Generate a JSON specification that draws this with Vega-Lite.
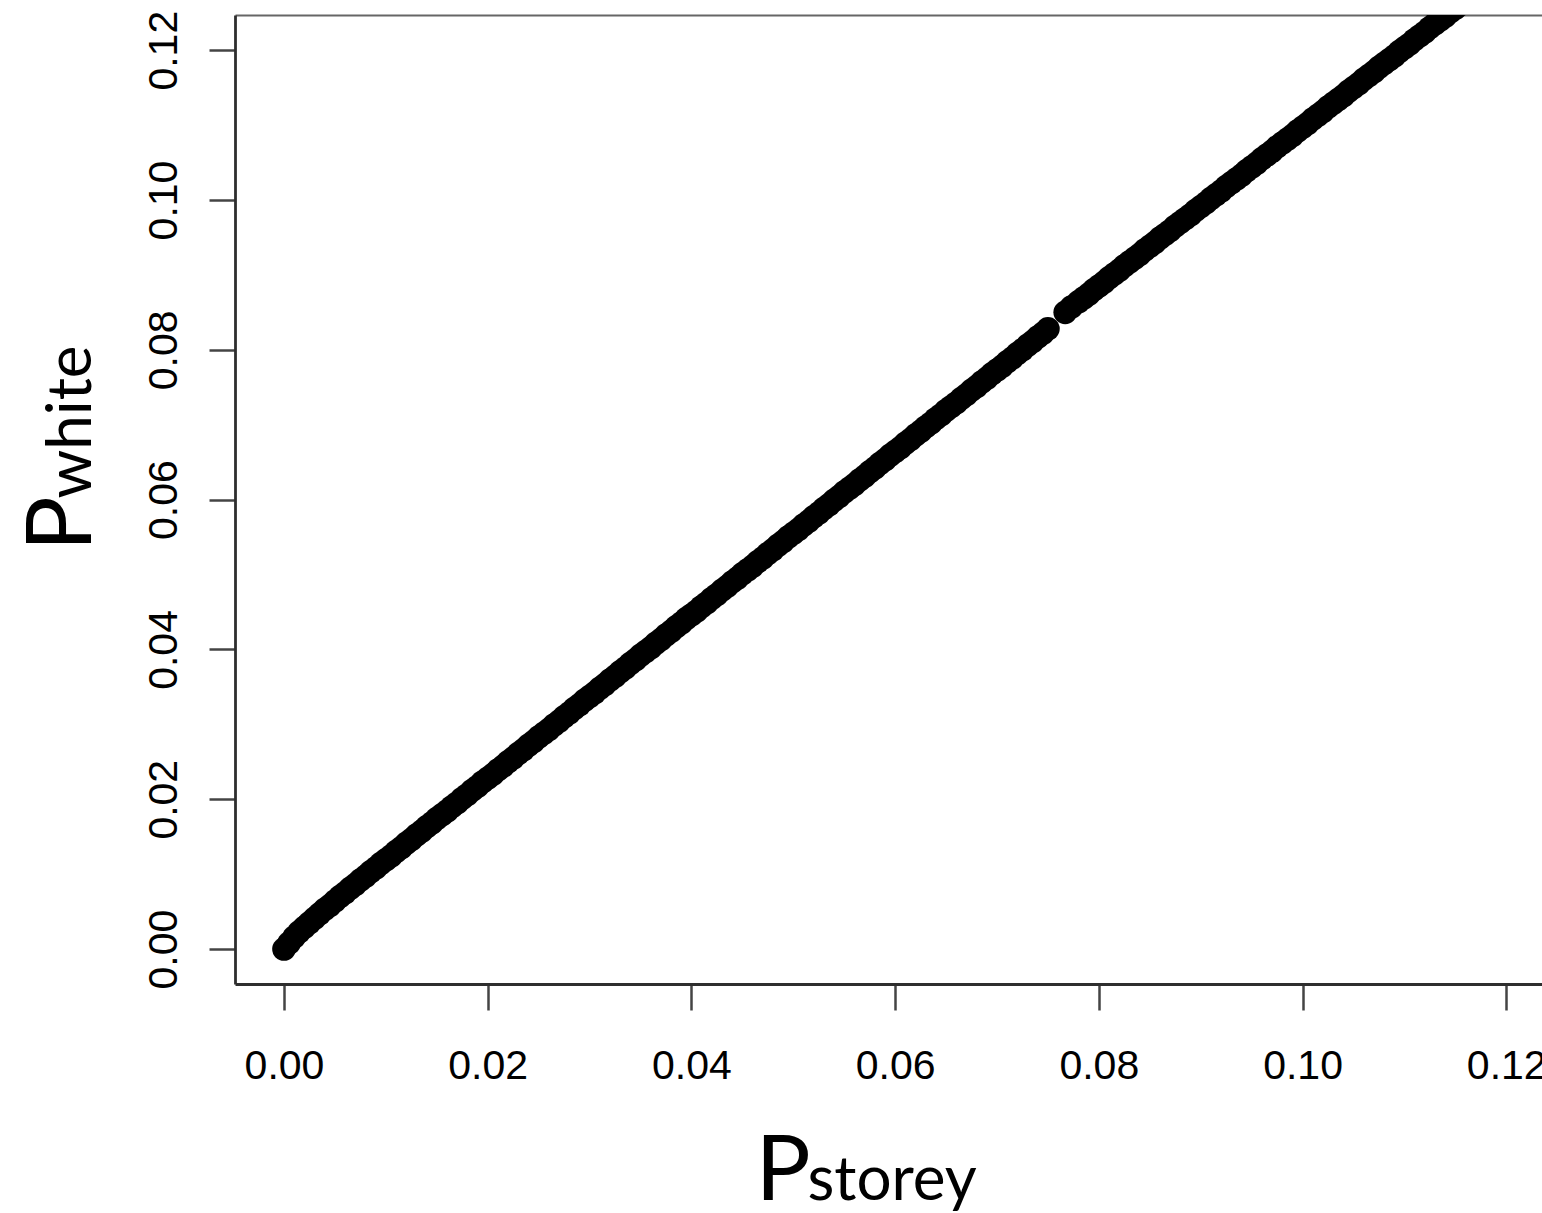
{
  "$schema": "https://vega.github.io/schema/vega-lite/v6.json",
  "width": 1307,
  "height": 969,
  "autosize": {"type": "none"},
  "padding": {"left": 235, "top": 15, "right": 0, "bottom": 229},
  "background": "white",
  "config": {
    "view": {"stroke": null},
    "axis": {"grid": false, "labelFont": "Liberation Sans", "labelFontSize": 41, "labelColor": "#000", "titleColor": "#000", "titleFont": "Lato", "titleFontWeight": "normal"}
  },
  "data": {"values": [
    {"p_storey": 0, "p_white": 0},
    {"p_storey": 0.0005, "p_white": 0.0008},
    {"p_storey": 0.001, "p_white": 0.0016},
    {"p_storey": 0.0015, "p_white": 0.0023},
    {"p_storey": 0.002, "p_white": 0.0029},
    {"p_storey": 0.0025, "p_white": 0.0035},
    {"p_storey": 0.003, "p_white": 0.0041},
    {"p_storey": 0.0035, "p_white": 0.0047},
    {"p_storey": 0.004, "p_white": 0.0053},
    {"p_storey": 0.0045, "p_white": 0.0058},
    {"p_storey": 0.005, "p_white": 0.0064},
    {"p_storey": 0.0055, "p_white": 0.0070},
    {"p_storey": 0.006, "p_white": 0.0075},
    {"p_storey": 0.0065, "p_white": 0.0081},
    {"p_storey": 0.007, "p_white": 0.0086},
    {"p_storey": 0.0075, "p_white": 0.0092},
    {"p_storey": 0.008, "p_white": 0.0097},
    {"p_storey": 0.0085, "p_white": 0.0103},
    {"p_storey": 0.009, "p_white": 0.0108},
    {"p_storey": 0.0095, "p_white": 0.0114},
    {"p_storey": 0.010, "p_white": 0.0119},
    {"p_storey": 0.0105, "p_white": 0.0124},
    {"p_storey": 0.011, "p_white": 0.0130},
    {"p_storey": 0.0115, "p_white": 0.0135},
    {"p_storey": 0.012, "p_white": 0.0141},
    {"p_storey": 0.0125, "p_white": 0.0146},
    {"p_storey": 0.013, "p_white": 0.0152},
    {"p_storey": 0.0135, "p_white": 0.0157},
    {"p_storey": 0.014, "p_white": 0.0163},
    {"p_storey": 0.0145, "p_white": 0.0168},
    {"p_storey": 0.015, "p_white": 0.0174},
    {"p_storey": 0.0155, "p_white": 0.0179},
    {"p_storey": 0.016, "p_white": 0.0184},
    {"p_storey": 0.0165, "p_white": 0.0190},
    {"p_storey": 0.017, "p_white": 0.0195},
    {"p_storey": 0.0175, "p_white": 0.0201},
    {"p_storey": 0.018, "p_white": 0.0206},
    {"p_storey": 0.0185, "p_white": 0.0212},
    {"p_storey": 0.019, "p_white": 0.0217},
    {"p_storey": 0.0195, "p_white": 0.0223},
    {"p_storey": 0.020, "p_white": 0.0228},
    {"p_storey": 0.0205, "p_white": 0.0233},
    {"p_storey": 0.021, "p_white": 0.0239},
    {"p_storey": 0.0215, "p_white": 0.0244},
    {"p_storey": 0.022, "p_white": 0.0250},
    {"p_storey": 0.0225, "p_white": 0.0255},
    {"p_storey": 0.023, "p_white": 0.0261},
    {"p_storey": 0.0235, "p_white": 0.0266},
    {"p_storey": 0.024, "p_white": 0.0272},
    {"p_storey": 0.0245, "p_white": 0.0277},
    {"p_storey": 0.025, "p_white": 0.0283},
    {"p_storey": 0.0255, "p_white": 0.0288},
    {"p_storey": 0.026, "p_white": 0.0293},
    {"p_storey": 0.0265, "p_white": 0.0299},
    {"p_storey": 0.027, "p_white": 0.0304},
    {"p_storey": 0.0275, "p_white": 0.0310},
    {"p_storey": 0.028, "p_white": 0.0315},
    {"p_storey": 0.0285, "p_white": 0.0321},
    {"p_storey": 0.029, "p_white": 0.0326},
    {"p_storey": 0.0295, "p_white": 0.0332},
    {"p_storey": 0.030, "p_white": 0.0337},
    {"p_storey": 0.0305, "p_white": 0.0342},
    {"p_storey": 0.031, "p_white": 0.0348},
    {"p_storey": 0.0315, "p_white": 0.0353},
    {"p_storey": 0.032, "p_white": 0.0359},
    {"p_storey": 0.0325, "p_white": 0.0364},
    {"p_storey": 0.033, "p_white": 0.0370},
    {"p_storey": 0.0335, "p_white": 0.0375},
    {"p_storey": 0.034, "p_white": 0.0381},
    {"p_storey": 0.0345, "p_white": 0.0386},
    {"p_storey": 0.035, "p_white": 0.0392},
    {"p_storey": 0.0355, "p_white": 0.0397},
    {"p_storey": 0.036, "p_white": 0.0402},
    {"p_storey": 0.0365, "p_white": 0.0408},
    {"p_storey": 0.037, "p_white": 0.0413},
    {"p_storey": 0.0375, "p_white": 0.0419},
    {"p_storey": 0.038, "p_white": 0.0424},
    {"p_storey": 0.0385, "p_white": 0.0430},
    {"p_storey": 0.039, "p_white": 0.0435},
    {"p_storey": 0.0395, "p_white": 0.0441},
    {"p_storey": 0.040, "p_white": 0.0446},
    {"p_storey": 0.0405, "p_white": 0.0451},
    {"p_storey": 0.041, "p_white": 0.0457},
    {"p_storey": 0.0415, "p_white": 0.0462},
    {"p_storey": 0.042, "p_white": 0.0468},
    {"p_storey": 0.0425, "p_white": 0.0473},
    {"p_storey": 0.043, "p_white": 0.0479},
    {"p_storey": 0.0435, "p_white": 0.0484},
    {"p_storey": 0.044, "p_white": 0.0490},
    {"p_storey": 0.0445, "p_white": 0.0495},
    {"p_storey": 0.045, "p_white": 0.0501},
    {"p_storey": 0.0455, "p_white": 0.0506},
    {"p_storey": 0.046, "p_white": 0.0511},
    {"p_storey": 0.0465, "p_white": 0.0517},
    {"p_storey": 0.047, "p_white": 0.0522},
    {"p_storey": 0.0475, "p_white": 0.0528},
    {"p_storey": 0.048, "p_white": 0.0533},
    {"p_storey": 0.0485, "p_white": 0.0539},
    {"p_storey": 0.049, "p_white": 0.0544},
    {"p_storey": 0.0495, "p_white": 0.0550},
    {"p_storey": 0.050, "p_white": 0.0555},
    {"p_storey": 0.0505, "p_white": 0.0560},
    {"p_storey": 0.051, "p_white": 0.0566},
    {"p_storey": 0.0515, "p_white": 0.0571},
    {"p_storey": 0.052, "p_white": 0.0577},
    {"p_storey": 0.0525, "p_white": 0.0582},
    {"p_storey": 0.053, "p_white": 0.0588},
    {"p_storey": 0.0535, "p_white": 0.0593},
    {"p_storey": 0.054, "p_white": 0.0599},
    {"p_storey": 0.0545, "p_white": 0.0604},
    {"p_storey": 0.055, "p_white": 0.0610},
    {"p_storey": 0.0555, "p_white": 0.0615},
    {"p_storey": 0.056, "p_white": 0.0620},
    {"p_storey": 0.0565, "p_white": 0.0626},
    {"p_storey": 0.057, "p_white": 0.0631},
    {"p_storey": 0.0575, "p_white": 0.0637},
    {"p_storey": 0.058, "p_white": 0.0642},
    {"p_storey": 0.0585, "p_white": 0.0648},
    {"p_storey": 0.059, "p_white": 0.0653},
    {"p_storey": 0.0595, "p_white": 0.0659},
    {"p_storey": 0.060, "p_white": 0.0664},
    {"p_storey": 0.0605, "p_white": 0.0669},
    {"p_storey": 0.061, "p_white": 0.0675},
    {"p_storey": 0.0615, "p_white": 0.0680},
    {"p_storey": 0.062, "p_white": 0.0686},
    {"p_storey": 0.0625, "p_white": 0.0691},
    {"p_storey": 0.063, "p_white": 0.0697},
    {"p_storey": 0.0635, "p_white": 0.0702},
    {"p_storey": 0.064, "p_white": 0.0708},
    {"p_storey": 0.0645, "p_white": 0.0713},
    {"p_storey": 0.065, "p_white": 0.0719},
    {"p_storey": 0.0655, "p_white": 0.0724},
    {"p_storey": 0.066, "p_white": 0.0729},
    {"p_storey": 0.0665, "p_white": 0.0735},
    {"p_storey": 0.067, "p_white": 0.0740},
    {"p_storey": 0.0675, "p_white": 0.0746},
    {"p_storey": 0.068, "p_white": 0.0751},
    {"p_storey": 0.0685, "p_white": 0.0757},
    {"p_storey": 0.069, "p_white": 0.0762},
    {"p_storey": 0.0695, "p_white": 0.0768},
    {"p_storey": 0.070, "p_white": 0.0773},
    {"p_storey": 0.0705, "p_white": 0.0778},
    {"p_storey": 0.071, "p_white": 0.0784},
    {"p_storey": 0.0715, "p_white": 0.0789},
    {"p_storey": 0.072, "p_white": 0.0795},
    {"p_storey": 0.0725, "p_white": 0.0800},
    {"p_storey": 0.073, "p_white": 0.0806},
    {"p_storey": 0.0735, "p_white": 0.0811},
    {"p_storey": 0.074, "p_white": 0.0817},
    {"p_storey": 0.0745, "p_white": 0.0822},
    {"p_storey": 0.075, "p_white": 0.0828},
    {"p_storey": 0.0767, "p_white": 0.0850},
    {"p_storey": 0.0773, "p_white": 0.0857},
    {"p_storey": 0.078, "p_white": 0.0864},
    {"p_storey": 0.0785, "p_white": 0.0869},
    {"p_storey": 0.079, "p_white": 0.0874},
    {"p_storey": 0.0795, "p_white": 0.0880},
    {"p_storey": 0.080, "p_white": 0.0885},
    {"p_storey": 0.0805, "p_white": 0.0890},
    {"p_storey": 0.081, "p_white": 0.0896},
    {"p_storey": 0.0815, "p_white": 0.0901},
    {"p_storey": 0.082, "p_white": 0.0906},
    {"p_storey": 0.0825, "p_white": 0.0912},
    {"p_storey": 0.083, "p_white": 0.0917},
    {"p_storey": 0.0835, "p_white": 0.0922},
    {"p_storey": 0.084, "p_white": 0.0927},
    {"p_storey": 0.0845, "p_white": 0.0933},
    {"p_storey": 0.085, "p_white": 0.0938},
    {"p_storey": 0.0855, "p_white": 0.0943},
    {"p_storey": 0.086, "p_white": 0.0949},
    {"p_storey": 0.0865, "p_white": 0.0954},
    {"p_storey": 0.087, "p_white": 0.0959},
    {"p_storey": 0.0875, "p_white": 0.0965},
    {"p_storey": 0.088, "p_white": 0.0970},
    {"p_storey": 0.0885, "p_white": 0.0975},
    {"p_storey": 0.089, "p_white": 0.0980},
    {"p_storey": 0.0895, "p_white": 0.0986},
    {"p_storey": 0.090, "p_white": 0.0991},
    {"p_storey": 0.0905, "p_white": 0.0996},
    {"p_storey": 0.091, "p_white": 0.1002},
    {"p_storey": 0.0915, "p_white": 0.1007},
    {"p_storey": 0.092, "p_white": 0.1012},
    {"p_storey": 0.0925, "p_white": 0.1018},
    {"p_storey": 0.093, "p_white": 0.1023},
    {"p_storey": 0.0935, "p_white": 0.1028},
    {"p_storey": 0.094, "p_white": 0.1033},
    {"p_storey": 0.0945, "p_white": 0.1039},
    {"p_storey": 0.095, "p_white": 0.1044},
    {"p_storey": 0.0955, "p_white": 0.1049},
    {"p_storey": 0.096, "p_white": 0.1055},
    {"p_storey": 0.0965, "p_white": 0.1060},
    {"p_storey": 0.097, "p_white": 0.1065},
    {"p_storey": 0.0975, "p_white": 0.1071},
    {"p_storey": 0.098, "p_white": 0.1076},
    {"p_storey": 0.0985, "p_white": 0.1081},
    {"p_storey": 0.099, "p_white": 0.1086},
    {"p_storey": 0.0995, "p_white": 0.1092},
    {"p_storey": 0.100, "p_white": 0.1097},
    {"p_storey": 0.1005, "p_white": 0.1102},
    {"p_storey": 0.101, "p_white": 0.1108},
    {"p_storey": 0.1015, "p_white": 0.1113},
    {"p_storey": 0.102, "p_white": 0.1118},
    {"p_storey": 0.1025, "p_white": 0.1124},
    {"p_storey": 0.103, "p_white": 0.1129},
    {"p_storey": 0.1035, "p_white": 0.1134},
    {"p_storey": 0.104, "p_white": 0.1139},
    {"p_storey": 0.1045, "p_white": 0.1145},
    {"p_storey": 0.105, "p_white": 0.1150},
    {"p_storey": 0.1055, "p_white": 0.1155},
    {"p_storey": 0.106, "p_white": 0.1161},
    {"p_storey": 0.1065, "p_white": 0.1166},
    {"p_storey": 0.107, "p_white": 0.1171},
    {"p_storey": 0.1075, "p_white": 0.1177},
    {"p_storey": 0.108, "p_white": 0.1182},
    {"p_storey": 0.1085, "p_white": 0.1187},
    {"p_storey": 0.109, "p_white": 0.1192},
    {"p_storey": 0.1095, "p_white": 0.1198},
    {"p_storey": 0.110, "p_white": 0.1203},
    {"p_storey": 0.1105, "p_white": 0.1208},
    {"p_storey": 0.111, "p_white": 0.1214},
    {"p_storey": 0.1115, "p_white": 0.1219},
    {"p_storey": 0.112, "p_white": 0.1224},
    {"p_storey": 0.1125, "p_white": 0.1230},
    {"p_storey": 0.113, "p_white": 0.1235},
    {"p_storey": 0.1135, "p_white": 0.1240},
    {"p_storey": 0.114, "p_white": 0.1245},
    {"p_storey": 0.1145, "p_white": 0.1251},
    {"p_storey": 0.115, "p_white": 0.1256},
    {"p_storey": 0.1155, "p_white": 0.1261},
    {"p_storey": 0.116, "p_white": 0.1267},
    {"p_storey": 0.117, "p_white": 0.1277},
    {"p_storey": 0.118, "p_white": 0.1288}
  ]},
  "layer": [
    {
      "mark": {"type": "point", "filled": true, "color": "#000", "opacity": 1, "size": 560, "clip": true},
      "encoding": {
        "x": {
          "field": "p_storey", "type": "quantitative",
          "scale": {"domain": [-0.00481, 0.12351], "nice": false, "zero": false},
          "axis": {
            "orient": "bottom", "values": [0, 0.02, 0.04, 0.06, 0.08, 0.1, 0.12], "format": ".2f",
            "domainColor": "#2e2e2e", "domainWidth": 2.8,
            "tickColor": "#444", "tickWidth": 2.5, "tickSize": 26,
            "labelPadding": 68, "labelBaseline": "alphabetic", "labelAlign": "center", "labelFlush": false, "labelOverlap": false, "labelBound": false,
            "title": "P", "titleFontSize": 92, "titleAlign": "left", "titleBaseline": "alphabetic", "titleX": 520, "titleY": 215
          }
        },
        "y": {
          "field": "p_white", "type": "quantitative",
          "scale": {"domain": [-0.00467, 0.1247], "nice": false, "zero": false},
          "axis": {
            "orient": "left", "values": [0, 0.02, 0.04, 0.06, 0.08, 0.1, 0.12], "format": ".2f",
            "domainColor": "#2e2e2e", "domainWidth": 2.8,
            "tickColor": "#444", "tickWidth": 2.5, "tickSize": 26,
            "labelAngle": -90, "labelPadding": 33, "labelBaseline": "alphabetic", "labelAlign": "center", "labelFlush": false, "labelOverlap": false, "labelBound": false,
            "title": "P", "titleFontSize": 92, "titleAngle": -90, "titleAlign": "left", "titleBaseline": "alphabetic", "titleX": -145, "titleY": 536
          }
        }
      }
    },
    {
      "mark": {"type": "point", "filled": true, "color": "#000", "opacity": 0, "size": 560, "clip": true},
      "encoding": {
        "x": {
          "field": "p_storey", "type": "quantitative",
          "scale": {"domain": [-0.00481, 0.12351], "nice": false, "zero": false},
          "axis": {
            "orient": "top", "domain": true, "domainColor": "#666", "domainWidth": 2,
            "ticks": false, "labels": false,
            "title": "storey", "titleFontSize": 62, "titleAlign": "left", "titleBaseline": "alphabetic", "titleX": 572, "titleY": 1184
          }
        },
        "y": {
          "field": "p_white", "type": "quantitative",
          "scale": {"domain": [-0.00467, 0.1247], "nice": false, "zero": false},
          "axis": {
            "orient": "right", "domain": false, "ticks": false, "labels": false,
            "title": "white", "titleFontSize": 62, "titleAngle": -90, "titleAlign": "left", "titleBaseline": "alphabetic", "titleX": -1452, "titleY": 483
          }
        }
      }
    }
  ],
  "resolve": {"axis": {"x": "independent", "y": "independent"}}
}
